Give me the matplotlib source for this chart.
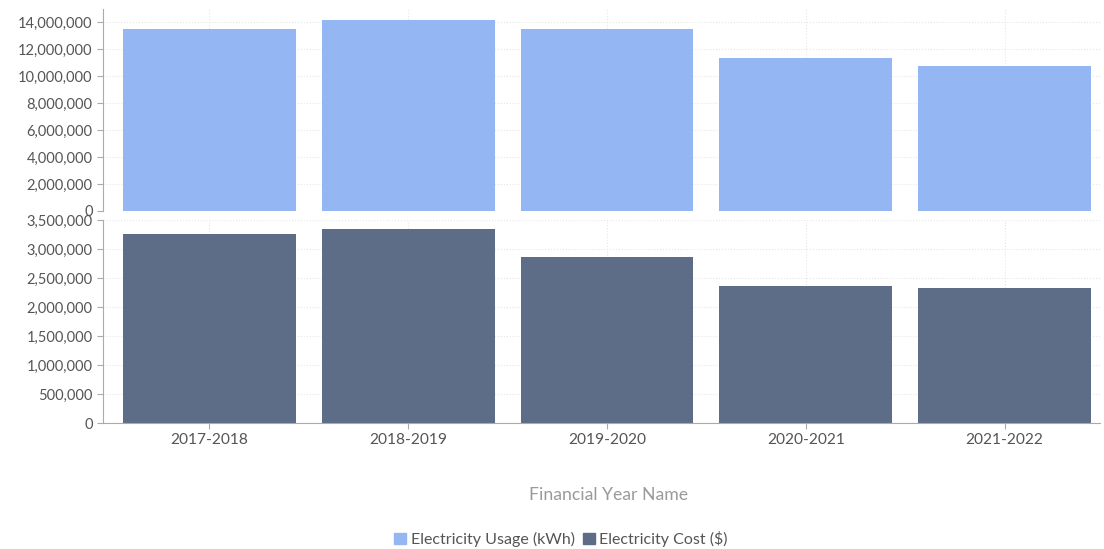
import matplotlib.pyplot as plt
from matplotlib.patches import Patch
from matplotlib.ticker import FuncFormatter

plt.rcParams["font.family"] = ["Lato", "DejaVu Sans"]

years = ["2017-2018", "2018-2019", "2019-2020", "2020-2021", "2021-2022"]
usage_kwh = [13480000, 14200000, 13480000, 11330000, 10740000]
cost_usd = [3260000, 3350000, 2860000, 2370000, 2320000]

c_usage = "#94b6f3"
c_cost = "#5d6d88"
tick_col = "#555555"
fs = 10.5

fig = plt.figure(figsize=(11.04, 5.49), dpi=100)
ax_top = fig.add_axes([0.0933, 0.6157, 0.9031, 0.3679])
ax_bot = fig.add_axes([0.0933, 0.2295, 0.9031, 0.3698])

fmt = FuncFormatter(lambda v, p: f"{int(v):,}")
x = range(len(years))

ax_top.bar(x, usage_kwh, width=0.87, color=c_usage)
ax_bot.bar(x, cost_usd, width=0.87, color=c_cost)

ax_top.set_ylim(0, 15000000)
ax_top.set_yticks(range(0, 14000001, 2000000))
ax_bot.set_ylim(0, 3500000)
ax_bot.set_yticks(range(0, 3500001, 500000))

for a in (ax_top, ax_bot):
    a.set_xlim(-0.535, 4.48)
    a.yaxis.set_major_formatter(fmt)
    a.set_xticks(list(x))
    for s in ("top", "right"):
        a.spines[s].set_visible(False)
    a.spines["left"].set_color("#aaaaaa")
    a.grid(True, ls=":", color="#e6e6e6", lw=0.8)
    a.set_axisbelow(True)
    a.tick_params(axis="y", colors="#aaaaaa", labelcolor=tick_col, labelsize=fs, length=4)
    a.tick_params(axis="x", colors="#aaaaaa", labelcolor=tick_col, labelsize=11.2, length=4)

ax_top.spines["bottom"].set_visible(False)
ax_top.tick_params(axis="x", length=0, labelbottom=False)
ax_bot.spines["bottom"].set_color("#aaaaaa")
ax_bot.set_xticklabels(years)

fig.text(0.551, 0.098, "Financial Year Name", ha="center", va="center", color="#9a9a9a", fontsize=12.7)

handles = [Patch(color=c_usage, label="Electricity Usage (kWh)"),
           Patch(color=c_cost, label="Electricity Cost ($)")]
fig.legend(handles=handles, loc="center", bbox_to_anchor=(0.508, 0.018), ncol=2, frameon=False,
           fontsize=11.5, labelcolor=tick_col, handlelength=0.75, handleheight=0.75,
           handletextpad=0.3, columnspacing=0.5)

fig.savefig("out.png", dpi=100)
